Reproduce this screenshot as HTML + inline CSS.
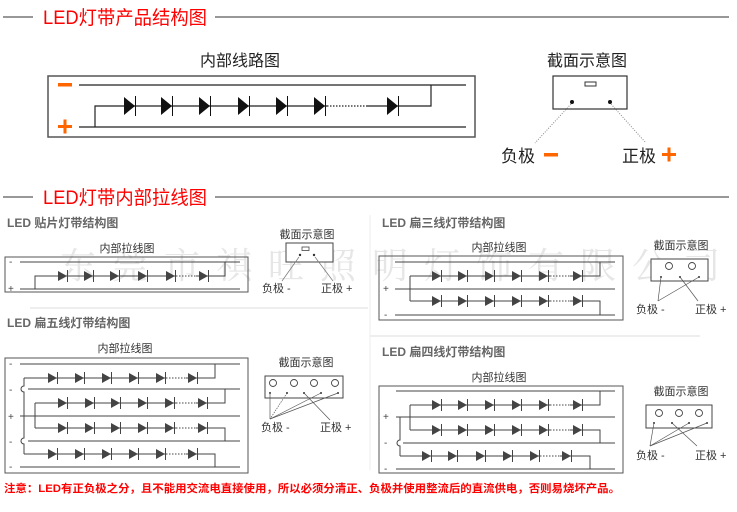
<!DOCTYPE html>
<html><head><meta charset="utf-8"><style>
html,body{margin:0;padding:0;background:#fff;}
svg{display:block;font-family:"Liberation Sans","Noto Sans CJK SC",sans-serif;}
</style></head><body>
<svg width="737" height="512" viewBox="0 0 737 512" xmlns="http://www.w3.org/2000/svg">
<defs>
<g id="D"><path d="M0,-9L11,0L0,9Z" fill="#111"/><line x1="11.5" y1="-10" x2="11.5" y2="10" stroke="#111" stroke-width="1"/></g>
<g id="d"><path d="M0,-5L9,0L0,5Z" fill="#444"/><line x1="9.5" y1="-6" x2="9.5" y2="6" stroke="#444" stroke-width="1"/></g>
</defs>

<!-- watermark -->
<text x="60" y="278" font-size="36" fill="#e6e6e6" textLength="660" font-family="Noto Serif CJK SC, serif">东莞市祺旺照明灯饰有限公司</text>

<!-- section 1 title -->
<line x1="3" y1="17" x2="33" y2="17" stroke="#777" stroke-width="1.5"/>
<text x="43" y="24" font-size="19" fill="#f00" textLength="164" lengthAdjust="spacingAndGlyphs">LED灯带产品结构图</text>
<line x1="215" y1="17" x2="729" y2="17" stroke="#777" stroke-width="1.5"/>

<text x="240" y="66" font-size="16" fill="#222" text-anchor="middle">内部线路图</text>
<rect x="48" y="76" width="427" height="61" fill="none" stroke="#555" stroke-width="1.5"/>
<rect x="58" y="83" width="14" height="3.5" fill="#f60"/>
<rect x="58" y="125" width="14" height="3" fill="#f60"/><rect x="63.5" y="119.5" width="3" height="14" fill="#f60"/>
<g stroke="#222" stroke-width="1.2" fill="none">
<line x1="79" y1="85" x2="466" y2="85"/>
<line x1="79" y1="127" x2="466" y2="127"/>
<polyline points="95,127 95,106 327,106"/>
<line x1="327" y1="106" x2="367" y2="106" stroke-dasharray="1.5,1.5"/>
<polyline points="367,106 431,106 431,85"/>
</g>
<use href="#D" x="124" y="106"/><use href="#D" x="161" y="106"/><use href="#D" x="199" y="106"/>
<use href="#D" x="238" y="106"/><use href="#D" x="276" y="106"/><use href="#D" x="314" y="106"/><use href="#D" x="387" y="106"/>

<text x="587" y="66" font-size="16" fill="#222" text-anchor="middle">截面示意图</text>
<rect x="553" y="76" width="74" height="33" fill="#fff" stroke="#333" stroke-width="1.2"/>
<rect x="585" y="82" width="11" height="4" fill="none" stroke="#333"/>
<circle cx="572" cy="102" r="2" fill="#111"/><circle cx="610" cy="102" r="2" fill="#111"/>
<line x1="571" y1="104" x2="535" y2="143" stroke="#888" stroke-dasharray="1,1.5"/>
<line x1="611" y1="104" x2="646" y2="143" stroke="#888" stroke-dasharray="1,1.5"/>
<text x="501" y="162" font-size="17" fill="#222">负极</text>
<rect x="544" y="153" width="14" height="3.5" fill="#f60"/>
<text x="622" y="162" font-size="17" fill="#222">正极</text>
<rect x="662" y="153" width="14" height="3" fill="#f60"/><rect x="667.5" y="147.5" width="3" height="14" fill="#f60"/>

<!-- section 2 title -->
<line x1="3" y1="197" x2="33" y2="197" stroke="#777" stroke-width="1.5"/>
<text x="43" y="204" font-size="19" fill="#f00" textLength="164" lengthAdjust="spacingAndGlyphs">LED灯带内部拉线图</text>
<line x1="215" y1="197" x2="729" y2="197" stroke="#777" stroke-width="1.5"/>

<!-- separators -->
<line x1="30" y1="308" x2="368" y2="308" stroke="#ddd"/>
<line x1="370" y1="336" x2="700" y2="336" stroke="#ddd"/>
<line x1="370" y1="215" x2="370" y2="470" stroke="#eee"/>

<!-- sub 1 -->
<text x="7" y="227" font-size="12" font-weight="bold" fill="#666">LED 贴片灯带结构图</text>
<text x="127" y="252" font-size="11" fill="#333" text-anchor="middle">内部拉线图</text>
<rect x="5" y="257" width="243" height="35" fill="none" stroke="#555"/>
<text x="9" y="265" font-size="10" fill="#444">-</text><text x="8" y="292" font-size="10" fill="#444">+</text>
<g stroke="#444" stroke-width="1" fill="none">
<line x1="20" y1="262" x2="240" y2="262"/><line x1="20" y1="289" x2="240" y2="289"/>
<polyline points="35,289 35,276 176,276"/><line x1="176" y1="276" x2="196" y2="276" stroke-dasharray="1.5,1.5"/>
<polyline points="196,276 225,276 225,262"/>
</g>
<use href="#d" x="58" y="276"/><use href="#d" x="84" y="276"/><use href="#d" x="110" y="276"/><use href="#d" x="138" y="276"/><use href="#d" x="166" y="276"/><use href="#d" x="199" y="276"/>
<text x="307" y="238" font-size="11" fill="#333" text-anchor="middle">截面示意图</text>
<rect x="286" y="243" width="47" height="19" fill="#fff" stroke="#444"/>
<rect x="302" y="247" width="7" height="3.5" fill="none" stroke="#444" stroke-width="0.8"/>
<circle cx="300" cy="255" r="1.2" fill="#333"/><circle cx="314" cy="255" r="1.2" fill="#333"/>
<line x1="299" y1="257" x2="282" y2="281" stroke="#777" stroke-width="0.7"/>
<line x1="315" y1="257" x2="333" y2="281" stroke="#777" stroke-width="0.7"/>
<text x="262" y="292" font-size="11" fill="#333">负极 -</text>
<text x="321" y="292" font-size="11" fill="#333">正极 +</text>

<!-- sub 5-wire -->
<text x="7" y="327" font-size="12" font-weight="bold" fill="#666">LED 扁五线灯带结构图</text>
<text x="125" y="352" font-size="11" fill="#333" text-anchor="middle">内部拉线图</text>
<rect x="5" y="358" width="243" height="115" fill="none" stroke="#555"/>
<g font-size="10" fill="#444"><text x="9" y="367">-</text><text x="9" y="393">-</text><text x="8" y="420">+</text><text x="9" y="445">-</text><text x="9" y="470">-</text></g>
<g stroke="#444" stroke-width="1" fill="none">
<line x1="20" y1="364" x2="240" y2="364"/>
<line x1="28" y1="389" x2="240" y2="389"/>
<line x1="20" y1="416" x2="240" y2="416"/>
<line x1="28" y1="441" x2="240" y2="441"/>
<line x1="20" y1="467" x2="240" y2="467"/>
<path d="M24,378 L24,386 A3,3 0 0 0 24,392 L24,438 A3,3 0 0 0 24,444 L24,454"/>
<polyline points="35,403 35,428"/>
<polyline points="24,378 166,378"/><line x1="166" y1="378" x2="186" y2="378" stroke-dasharray="1.5,1.5"/><polyline points="186,378 215,378 215,364"/>
<polyline points="35,403 176,403"/><line x1="176" y1="403" x2="196" y2="403" stroke-dasharray="1.5,1.5"/><polyline points="196,403 225,403 225,389"/>
<polyline points="35,428 176,428"/><line x1="176" y1="428" x2="196" y2="428" stroke-dasharray="1.5,1.5"/><polyline points="196,428 225,428 225,441"/>
<polyline points="24,454 166,454"/><line x1="166" y1="454" x2="186" y2="454" stroke-dasharray="1.5,1.5"/><polyline points="186,454 215,454 215,467"/>
</g>
<g>
<use href="#d" x="48" y="378"/><use href="#d" x="75" y="378"/><use href="#d" x="102" y="378"/><use href="#d" x="129" y="378"/><use href="#d" x="156" y="378"/><use href="#d" x="188" y="378"/>
<use href="#d" x="58" y="403"/><use href="#d" x="85" y="403"/><use href="#d" x="111" y="403"/><use href="#d" x="138" y="403"/><use href="#d" x="165" y="403"/><use href="#d" x="198" y="403"/>
<use href="#d" x="58" y="428"/><use href="#d" x="85" y="428"/><use href="#d" x="111" y="428"/><use href="#d" x="138" y="428"/><use href="#d" x="165" y="428"/><use href="#d" x="198" y="428"/>
<use href="#d" x="48" y="454"/><use href="#d" x="75" y="454"/><use href="#d" x="102" y="454"/><use href="#d" x="129" y="454"/><use href="#d" x="156" y="454"/><use href="#d" x="188" y="454"/>
</g>
<text x="306" y="366" font-size="11" fill="#333" text-anchor="middle">截面示意图</text>
<rect x="265" y="376" width="78" height="22" fill="#fff" stroke="#444"/>
<g fill="none" stroke="#444" stroke-width="0.9"><circle cx="273" cy="383" r="3.5"/><circle cx="294" cy="383" r="3.5"/><circle cx="314" cy="383" r="3.5"/><circle cx="335" cy="383" r="3.5"/></g>
<g fill="#333"><circle cx="270" cy="393" r="1"/><circle cx="287" cy="393" r="1"/><circle cx="304" cy="393" r="1"/><circle cx="321" cy="393" r="1"/><circle cx="338" cy="393" r="1"/></g>
<g stroke="#555" stroke-width="0.7">
<line x1="270" y1="393" x2="270" y2="419"/><line x1="287" y1="393" x2="270" y2="419" stroke-dasharray="1.5,1"/>
<line x1="321" y1="393" x2="270" y2="419"/><line x1="338" y1="393" x2="270" y2="419"/>
<line x1="304" y1="393" x2="330" y2="420"/></g>
<text x="261" y="431" font-size="11" fill="#333">负极 -</text>
<text x="320" y="431" font-size="11" fill="#333">正极 +</text>

<!-- sub 3-wire -->
<text x="382" y="227" font-size="12" font-weight="bold" fill="#666">LED 扁三线灯带结构图</text>
<text x="499" y="251" font-size="11" fill="#333" text-anchor="middle">内部拉线图</text>
<rect x="379" y="256" width="244" height="64" fill="none" stroke="#555"/>
<g font-size="10" fill="#444"><text x="383" y="292">+</text><text x="384" y="318">-</text></g>
<g stroke="#444" stroke-width="1" fill="none">
<line x1="395" y1="262" x2="615" y2="262"/><line x1="395" y1="289" x2="615" y2="289"/><line x1="395" y1="315" x2="615" y2="315"/>
<polyline points="410,276 410,301"/>
<polyline points="410,276 550,276"/><line x1="550" y1="276" x2="570" y2="276" stroke-dasharray="1.5,1.5"/><polyline points="570,276 600,276 600,262"/>
<polyline points="410,301 550,301"/><line x1="550" y1="301" x2="570" y2="301" stroke-dasharray="1.5,1.5"/><polyline points="570,301 600,301 600,315"/>
</g>
<use href="#d" x="432" y="276"/><use href="#d" x="458" y="276"/><use href="#d" x="485" y="276"/><use href="#d" x="512" y="276"/><use href="#d" x="539" y="276"/><use href="#d" x="573" y="276"/>
<use href="#d" x="432" y="301"/><use href="#d" x="458" y="301"/><use href="#d" x="485" y="301"/><use href="#d" x="512" y="301"/><use href="#d" x="539" y="301"/><use href="#d" x="573" y="301"/>
<text x="681" y="249" font-size="11" fill="#333" text-anchor="middle">截面示意图</text>
<rect x="651" y="259" width="57" height="22" fill="#fff" stroke="#444"/>
<g fill="none" stroke="#444" stroke-width="0.9"><circle cx="669" cy="266" r="3.5"/><circle cx="692" cy="266" r="3.5"/></g>
<g fill="#333"><circle cx="661" cy="277" r="1"/><circle cx="680" cy="277" r="1"/><circle cx="699" cy="277" r="1"/></g>
<g stroke="#555" stroke-width="0.7"><line x1="661" y1="277" x2="658" y2="301"/><line x1="699" y1="277" x2="658" y2="301"/><line x1="680" y1="277" x2="698" y2="301"/></g>
<text x="636" y="313" font-size="11" fill="#333">负极 -</text>
<text x="695" y="313" font-size="11" fill="#333">正极 +</text>

<!-- sub 4-wire -->
<text x="382" y="356" font-size="12" font-weight="bold" fill="#666">LED 扁四线灯带结构图</text>
<text x="499" y="381" font-size="11" fill="#333" text-anchor="middle">内部拉线图</text>
<rect x="379" y="386" width="244" height="87" fill="none" stroke="#555"/>
<g font-size="10" fill="#444"><text x="383" y="420">+</text><text x="384" y="446">-</text><text x="384" y="472">-</text></g>
<g stroke="#444" stroke-width="1" fill="none">
<line x1="396" y1="391" x2="615" y2="391"/><line x1="396" y1="417" x2="615" y2="417"/><line x1="403" y1="443" x2="615" y2="443"/><line x1="396" y1="469" x2="615" y2="469"/>
<polyline points="410,405 410,430"/>
<path d="M400,417 L400,440 A3,3 0 0 0 400,446 L400,456"/>
<polyline points="410,405 550,405"/><line x1="550" y1="405" x2="570" y2="405" stroke-dasharray="1.5,1.5"/><polyline points="570,405 600,405 600,391"/>
<polyline points="410,430 550,430"/><line x1="550" y1="430" x2="570" y2="430" stroke-dasharray="1.5,1.5"/><polyline points="570,430 600,430 600,443"/>
<polyline points="400,456 540,456"/><line x1="540" y1="456" x2="560" y2="456" stroke-dasharray="1.5,1.5"/><polyline points="560,456 590,456 590,469"/>
</g>
<use href="#d" x="432" y="405"/><use href="#d" x="458" y="405"/><use href="#d" x="485" y="405"/><use href="#d" x="512" y="405"/><use href="#d" x="539" y="405"/><use href="#d" x="573" y="405"/>
<use href="#d" x="432" y="430"/><use href="#d" x="458" y="430"/><use href="#d" x="485" y="430"/><use href="#d" x="512" y="430"/><use href="#d" x="539" y="430"/><use href="#d" x="573" y="430"/>
<use href="#d" x="422" y="456"/><use href="#d" x="448" y="456"/><use href="#d" x="476" y="456"/><use href="#d" x="503" y="456"/><use href="#d" x="530" y="456"/><use href="#d" x="562" y="456"/>
<text x="681" y="395" font-size="11" fill="#333" text-anchor="middle">截面示意图</text>
<rect x="646" y="405" width="66" height="23" fill="#fff" stroke="#444"/>
<g fill="none" stroke="#444" stroke-width="0.9"><circle cx="659" cy="413" r="3.5"/><circle cx="679" cy="413" r="3.5"/><circle cx="699" cy="413" r="3.5"/></g>
<g fill="#333"><circle cx="654" cy="423" r="1"/><circle cx="672" cy="423" r="1"/><circle cx="689" cy="423" r="1"/><circle cx="707" cy="423" r="1"/></g>
<g stroke="#555" stroke-width="0.7"><line x1="654" y1="423" x2="650" y2="446"/><line x1="689" y1="423" x2="650" y2="446"/><line x1="707" y1="423" x2="650" y2="446"/><line x1="672" y1="423" x2="697" y2="446"/></g>
<text x="636" y="459" font-size="11" fill="#333">负极 -</text>
<text x="695" y="459" font-size="11" fill="#333">正极 +</text>

<!-- note -->
<text x="4" y="492" font-size="11" font-weight="bold" fill="#f00" textLength="616" lengthAdjust="spacingAndGlyphs">注意：LED有正负极之分，且不能用交流电直接使用，所以必须分清正、负极并使用整流后的直流供电，否则易烧坏产品。</text>
</svg>
</body></html>
